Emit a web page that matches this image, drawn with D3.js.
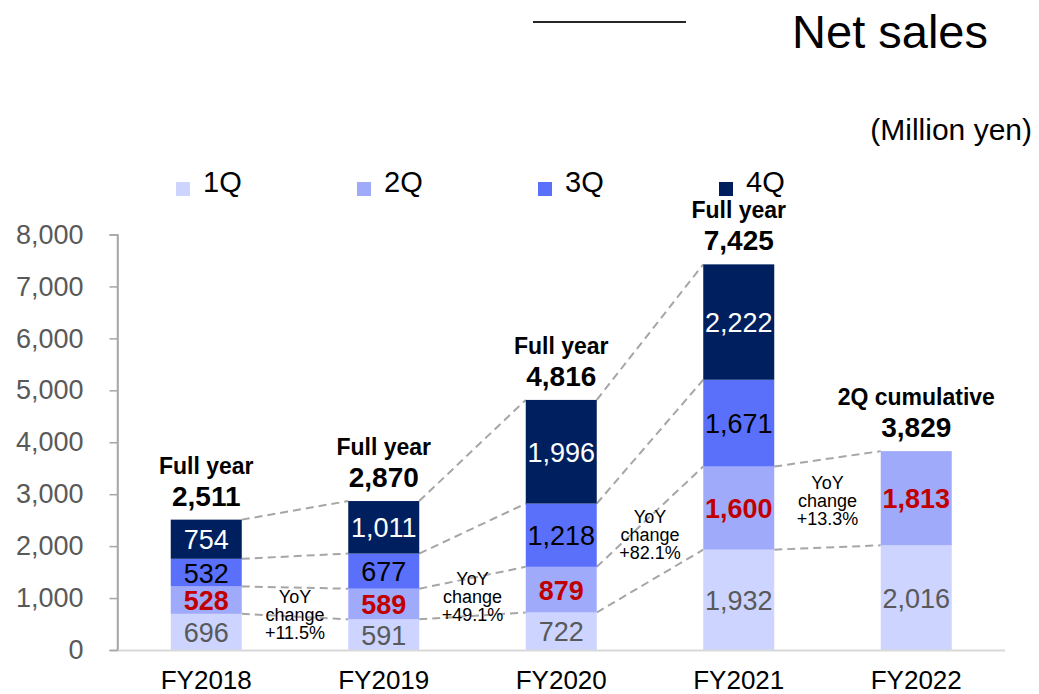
<!DOCTYPE html>
<html>
<head>
<meta charset="utf-8">
<script src="https://cdn.jsdelivr.net/npm/d3@7"></script>
<style>
  html, body { margin: 0; padding: 0; background: #fff; }
  svg { display: block; font-family: "Liberation Sans", Arial, sans-serif; }
</style>
</head>
<body>
<svg id="chart" width="1039" height="694"></svg>
<script>
// Net sales by quarter (million yen)
const years = ["FY2018", "FY2019", "FY2020", "FY2021", "FY2022"];
const quarters = ["1Q", "2Q", "3Q", "4Q"];
const sales1Q = [696, 591, 722, 1932, 2016];
const sales2Q = [528, 589, 879, 1600, 1813];
const sales3Q = [532, 677, 1218, 1671, null];
const sales4Q = [754, 1011, 1996, 2222, null];
const totals = [2511, 2870, 4816, 7425, 3829];
const totalHeaders = ["Full year", "Full year", "Full year", "Full year", "2Q cumulative"];
const yoyChange = ["+11.5%", "+49.1%", "+82.1%", "+13.3%"];
const yTicks = [0, 1000, 2000, 3000, 4000, 5000, 6000, 7000, 8000];

// Level (in million yen) where each YoY note's first line sits
const yoyNoteLevel = [905, 1250, 2440, 3100];

const colors = ["#CCD4FF", "#A0AAFB", "#5A70FA", "#001F5E"];
const labelColors = ["#595959", "#C00000", "#000000", "#FFFFFF"];
const labelWeights = ["normal", "bold", "normal", "normal"];

const svg = d3.select("#chart");
const fmt = d3.format(",");

const x = d3.scaleBand().domain(years).range([117.5, 1005]).paddingInner(0.6).paddingOuter(0.3);
const y = d3.scaleLinear().domain([0, 8000]).range([650, 234.5]);
const bw = x.bandwidth();

// Stack the quarters per year
const series = [sales1Q, sales2Q, sales3Q, sales4Q];
const stacks = years.map((yr, i) => {
  let acc = 0;
  const segs = [];
  series.forEach((s, k) => {
    if (s[i] != null) {
      segs.push({ year: yr, k, v: s[i], y0: acc, y1: acc + s[i] });
      acc += s[i];
    }
  });
  return segs;
});

// Title
svg.append("line").attr("x1", 533).attr("x2", 686).attr("y1", 22).attr("y2", 22)
  .attr("stroke", "#262626").attr("stroke-width", 2);
svg.append("text").attr("x", 988).attr("y", 48).attr("text-anchor", "end")
  .attr("font-size", 47).attr("fill", "#000").text("Net sales");
svg.append("text").attr("x", 1032).attr("y", 140).attr("text-anchor", "end")
  .attr("font-size", 30).attr("fill", "#000").text("(Million yen)");

// Legend
const legend = svg.append("g");
quarters.forEach((q, k) => {
  const lx = 176 + k * 181;
  legend.append("rect").attr("x", lx).attr("y", 182).attr("width", 14).attr("height", 14)
    .attr("fill", colors[k]);
  legend.append("text").attr("x", lx + 27).attr("y", 192).attr("font-size", 29)
    .attr("fill", "#000").text(q);
});

// Y axis
const yAxis = svg.append("g").attr("transform", "translate(117.5,0)")
  .call(d3.axisLeft(y).tickValues(yTicks).tickFormat(fmt).tickSize(8).tickPadding(26));
yAxis.select(".domain").attr("stroke", "#A6A6A6").attr("stroke-width", 1.5);
yAxis.selectAll(".tick line").attr("stroke", "#A6A6A6").attr("stroke-width", 1.5);
yAxis.selectAll(".tick text").attr("font-size", 27).attr("fill", "#595959")
  .attr("font-family", "Liberation Sans, Arial, sans-serif");

// Connector lines between consecutive bars
const connectors = [];
for (let i = 0; i < years.length - 1; i++) {
  const a = stacks[i], b = stacks[i + 1];
  const n = Math.min(a.length, b.length);
  for (let k = 0; k < n; k++) {
    connectors.push({ x1: x(years[i]) + bw, y1: y(a[k].y1), x2: x(years[i + 1]), y2: y(b[k].y1) });
  }
}
svg.append("g").selectAll("line").data(connectors).join("line")
  .attr("x1", d => d.x1).attr("y1", d => d.y1).attr("x2", d => d.x2).attr("y2", d => d.y2)
  .attr("stroke", "#A6A6A6").attr("stroke-width", 2).attr("stroke-dasharray", "8,5");

// Bars
const segsAll = stacks.flat();
svg.append("g").selectAll("rect").data(segsAll).join("rect")
  .attr("x", d => x(d.year)).attr("width", bw)
  .attr("y", d => y(d.y1)).attr("height", d => y(d.y0) - y(d.y1))
  .attr("fill", d => colors[d.k]);

// X axis baseline
svg.append("line").attr("x1", 117.5).attr("x2", 1005).attr("y1", 650.5).attr("y2", 650.5)
  .attr("stroke", "#D9D9D9").attr("stroke-width", 2);
svg.append("line").attr("x1", 117.5).attr("x2", 117.5).attr("y1", 234.5).attr("y2", 651)
  .attr("stroke", "#A6A6A6").attr("stroke-width", 1.5);

// Segment labels
svg.append("g").selectAll("text").data(segsAll).join("text")
  .attr("x", d => x(d.year) + bw / 2)
  .attr("y", d => y((d.y0 + d.y1) / 2) + 10)
  .attr("text-anchor", "middle").attr("font-size", 27)
  .attr("font-weight", d => labelWeights[d.k])
  .attr("fill", d => labelColors[d.k])
  .text(d => fmt(d.v));

// Totals above bars
years.forEach((yr, i) => {
  const top = y(stacks[i][stacks[i].length - 1].y1);
  const cx = x(yr) + bw / 2;
  svg.append("text").attr("x", cx).attr("y", top - 14).attr("text-anchor", "middle")
    .attr("font-size", 28).attr("font-weight", "bold").attr("fill", "#000").text(fmt(totals[i]));
  svg.append("text").attr("x", cx).attr("y", top - 46).attr("text-anchor", "middle")
    .attr("font-size", 23).attr("font-weight", "bold").attr("fill", "#000").text(totalHeaders[i]);
});

// YoY notes between bars
yoyChange.forEach((c, i) => {
  const cx = (x(years[i]) + bw + x(years[i + 1])) / 2;
  const t = svg.append("text").attr("text-anchor", "middle").attr("font-size", 18).attr("fill", "#000");
  ["YoY", "change", c].forEach((line, j) => {
    t.append("tspan").attr("x", cx).attr("y", y(yoyNoteLevel[i]) + j * 18).text(line);
  });
});

// X axis labels
svg.append("g").selectAll("text").data(years).join("text")
  .attr("x", d => x(d) + bw / 2).attr("y", 689)
  .attr("text-anchor", "middle").attr("font-size", 26).attr("fill", "#000")
  .text(d => d);
</script>
</body>
</html>
